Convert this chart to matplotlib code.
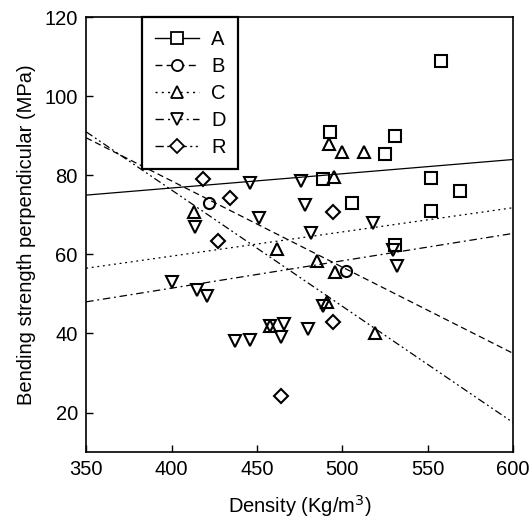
import matplotlib
matplotlib.use("Agg")
import matplotlib.pyplot as plt
from matplotlib.lines import Line2D

plt.rcParams['font.family'] = ['Liberation Sans', 'DejaVu Sans']

# ---- data ----
A_x = [558, 531, 525, 552, 569, 493, 489, 506, 531, 552]
A_y = [109, 90, 85.5, 79.4, 76, 91, 79, 73, 62.5, 71]

B_x = [422, 502]
B_y = [73, 55.8]

C_x = [413, 462, 485, 496, 491, 519, 492, 500, 513, 495, 457.5]
C_y = [70.7, 61.4, 58.3, 55.5, 48, 40, 88, 86, 86, 79.5, 42]

D_x = [476, 478, 518, 482, 530, 532, 446, 451, 414, 400, 415, 421, 457.5, 466, 464, 437, 446, 489, 480]
D_y = [78.5, 72.5, 68, 65.4, 61, 57, 78, 69.3, 67, 53, 51, 49.6, 42, 42.5, 39, 38, 38.4, 47, 41.2]

R_x = [418.5, 434.5, 427, 494.5, 494.5, 464]
R_y = [79, 74.3, 63.5, 70.7, 43, 24.3]

# regression lines: endpoints at x = 350 and 600
fit_x = [350, 600]
A_fit = [75, 84]
B_fit = [89.5, 35]
C_fit = [56.5, 71.8]
D_fit = [48, 65.3]
R_fit = [91, 17.5]

labels = ['A', 'B', 'C', 'D', 'R']
xticks = [350, 400, 450, 500, 550, 600]
yticks = [20, 40, 60, 80, 100, 120]

# ---- figure ----
fig = plt.figure(figsize=(5.32, 5.22), dpi=100)
ax = fig.add_axes([0.162, 0.134, 0.802, 0.833])

styles = {
    'A': dict(ls='-', marker='s'),
    'B': dict(ls=(0, (5, 3)), marker='o'),
    'C': dict(ls=(0, (1.5, 3)), marker='^'),
    'D': dict(ls=(0, (6, 3, 1.5, 3)), marker='v'),
    'R': dict(ls=(0, (6, 2.5, 1.5, 2.5, 1.5, 2.5)), marker='D'),
}
data = {'A': (A_x, A_y, A_fit), 'B': (B_x, B_y, B_fit), 'C': (C_x, C_y, C_fit),
        'D': (D_x, D_y, D_fit), 'R': (R_x, R_y, R_fit)}

handles = []
for lab in labels:
    xs, ys, fit = data[lab]
    st = styles[lab]
    ms = 8 if st['marker'] != 'D' else 7
    ax.plot(fit_x, fit, color='black', lw=0.9, linestyle=st['ls'])
    ax.plot(xs, ys, linestyle='none', marker=st['marker'], ms=ms,
            mfc='none', mec='black', mew=1.5)
    handles.append(Line2D([], [], color='black', lw=1.0, linestyle=st['ls'],
                          marker=st['marker'], ms=ms, mfc='white', mec='black', mew=1.3))

ax.set_xlim(350, 600)
ax.set_ylim(10, 120)
ax.set_xticks(xticks)
ax.set_yticks(yticks)
ax.tick_params(direction='in', length=5, width=1, labelsize=14.5, pad=6)
for s in ax.spines.values():
    s.set_linewidth(1.2)

ax.set_xlabel('Density (Kg/m$^3$)', fontsize=14.5, labelpad=10)
ax.set_ylabel('Bending strength perpendicular (MPa)', fontsize=14.5, labelpad=6)

leg = ax.legend(handles, labels, loc='upper left', bbox_to_anchor=(0.131, 1.0),
                borderaxespad=0, fontsize=14.5, handlelength=2.2, handletextpad=0.6,
                labelspacing=0.40, borderpad=0.62, fancybox=False, framealpha=1,
                edgecolor='black')
leg.get_frame().set_linewidth(1.6)

fig.savefig('out.png', dpi=100)
